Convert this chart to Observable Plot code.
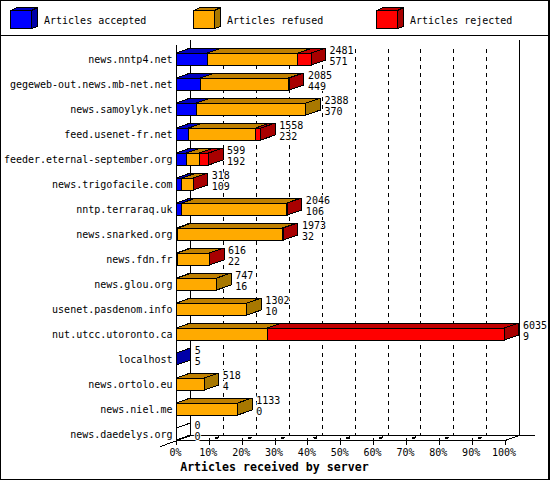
<!DOCTYPE html>
<html>
<head>
<meta charset="utf-8">
<script src="https://cdn.jsdelivr.net/npm/d3@7"></script>
<script src="https://cdn.jsdelivr.net/npm/@observablehq/plot@0.6"></script>
<style>
html,body{margin:0;padding:0;background:#fff;}
#page{position:relative;width:550px;height:480px;overflow:hidden;font-family:"DejaVu Sans Mono",monospace;color:#000;}
#frame{position:absolute;left:0;top:0;width:550px;height:480px;box-sizing:border-box;border:1px solid #000;border-right-width:2px;pointer-events:none;z-index:5;}
#legend{position:relative;height:35px;border-bottom:1px solid #000;}
#legend .sw{position:absolute;top:7px;}
#legend .tx{position:absolute;top:14px;font-size:10px;line-height:14px;white-space:pre;}
#chart svg{display:block;}
</style>
</head>
<body>
<div id="page"><div id="frame"></div><div id="legend"></div><div id="chart"></div></div>
<script>
const servers = ["news.nntp4.net","gegeweb-out.news.mb-net.net","news.samoylyk.net","feed.usenet-fr.net","feeder.eternal-september.org","news.trigofacile.com","nntp.terraraq.uk","news.snarked.org","news.fdn.fr","news.glou.org","usenet.pasdenom.info","nut.utcc.utoronto.ca","localhost","news.ortolo.eu","news.niel.me","news.daedelys.org"];
const totals   = [2481,2085,2388,1558,599,318,2046,1973,616,747,1302,6035,5,518,1133,0];
const accepted = [571,449,370,232,192,109,106,32,22,16,10,9,5,4,0,0];
const refused  = [1668,1616,2018,1231,237,204,1930,1926,590,731,1292,1665,0,514,1133,0];
const rejected = [242,20,0,95,170,5,10,15,4,0,0,4361,0,0,0,0];
const seriesNames = ["Articles accepted","Articles refused","Articles rejected"];
const frontColors = ["#0000ff","#ffaa00","#ff0000"];
const topColors   = ["#0000c0","#c08000","#c00000"];
const sideColors  = ["#0000a8","#a87800","#a80000"];
const percentTicks = [0,10,20,30,40,50,60,70,80,90,100];
const axisTitle = "Articles received by server";

// depth of the 3D projection in scale units, half height of a bar in rows
const depthX = 4.41, depthY = 0.2, half = 0.24, fullScale = 6035;
const pct = v => v / fullScale * 100;
const floorFront = 15 + half, floorBack = floorFront - depthY;

const series = [accepted, refused, rejected];
const fronts = [], quads = [];
servers.forEach((name, row) => {
  let start = 0, last = -1;
  series.forEach((vals, s) => {
    const v = vals[row];
    if (v <= 0) return;
    const a = pct(start), b = pct(start + v);
    fronts.push({row, x1: a, x2: b, fill: frontColors[s]});
    quads.push({id: `t${row}-${s}`, x1: a, x2: b, y1: row - half, y2: row - half, fill: topColors[s]});
    quads.push({id: `t${row}-${s}`, x1: a + depthX, x2: b + depthX, y1: row - half - depthY, y2: row - half - depthY, fill: topColors[s]});
    start += v; last = s;
  });
  const e = pct(start), fill = last >= 0 ? sideColors[last] : "#ffffff";
  quads.push({id: `s${row}`, x1: e, x2: e, y1: row - half, y2: row + half, fill});
  quads.push({id: `s${row}`, x1: e + depthX, x2: e + depthX, y1: row - half - depthY, y2: row + half - depthY, fill});
});

const valueLabels = servers.flatMap((_, row) => [
  {row: row - 0.36, x: pct(totals[row]) + depthX, t: String(totals[row])},
  {row: row + 0.08, x: pct(accepted[row] + refused[row] + rejected[row]) + depthX, t: String(accepted[row])}
]);

const inner = percentTicks.slice(1, -1);

const chart = Plot.plot({
  width: 550, height: 444,
  marginLeft: 177, marginRight: 45, marginTop: 0, marginBottom: 40,
  style: {fontFamily: '"DejaVu Sans Mono", monospace', fontSize: "10px", color: "#000", background: "#fff", overflow: "visible", shapeRendering: "crispEdges"},
  x: {domain: [0, 100], range: [176, 504.5]},
  y: {domain: [0, 15], range: [23, 398]},
  color: {type: "identity"},
  marks: [
    // back wall grid
    Plot.ruleX(inner, {x: d => d + depthX, y1: -0.4, y2: floorBack, stroke: "#000", strokeDasharray: "4 4"}),
    Plot.ruleX([0 + depthX, 100 + depthX], {y1: -0.76, y2: floorBack, stroke: "#000"}),
    Plot.ruleX([0], {y1: -0.56, y2: floorFront, stroke: "#000"}),
    // floor
    Plot.link([{a: 0, b: 100, y: floorFront}, {a: depthX, b: 109.1, y: floorBack}], {x1: "a", x2: "b", y1: "y", y2: "y", stroke: "#000"}),
    Plot.link([{a: -4.88, r: 15.48, b: depthX}, {a: 100, r: floorFront, b: 100 + depthX}], {x1: "a", y1: "r", x2: "b", y2: floorBack, stroke: "#000"}),
    Plot.link(inner, {x1: d => d, y1: floorFront, x2: d => d + depthX, y2: floorBack, stroke: "#000", strokeWidth: 2, strokeDasharray: "0 6 4 100"}),
    Plot.ruleX(inner, {x: d => d, y1: floorFront - 0.08, y2: floorFront, stroke: "#000"}),
    // bars
    Plot.area(quads, {x1: "x1", x2: "x2", y1: "y1", y2: "y2", z: "id", fill: "fill", stroke: "#000", strokeWidth: 1}),
    Plot.rect(fronts, {x1: "x1", x2: "x2", y1: d => d.row - half, y2: d => d.row + half, fill: "fill", stroke: "#000", strokeWidth: 1, inset: 0}),
    // labels
    Plot.text(valueLabels, {x: "x", y: "row", text: "t", dx: 3.5, textAnchor: "start", fill: "#000", stroke: "#fff", strokeWidth: 2, fontSize: 10}),
    Plot.axisX({ticks: percentTicks, tickFormat: () => "", tickSize: 5, label: null}),
    Plot.axisX({ticks: percentTicks, tickFormat: d => d + "%", tickSize: 0, tickPadding: 8, label: null, fontSize: 10, dx: -1}),
    Plot.axisY({ticks: d3.range(servers.length), tickFormat: d => servers[d], tickSize: 0, tickPadding: 5, label: null, fontSize: 10}),
    Plot.text([axisTitle], {x: 29.8, y: 16.3, text: d => d, fontWeight: "bold", fontSize: 11.6, fill: "#000"})
  ]
});
document.getElementById("chart").appendChild(chart);

// legend
const legend = document.getElementById("legend");
seriesNames.forEach((name, i) => {
  const left = 10 + i * 183;
  legend.insertAdjacentHTML("beforeend",
    `<svg class="sw" style="left:${left}px" width="29" height="23" viewBox="0 0 29 23" shape-rendering="crispEdges">
      <polygon points="0.5,3.5 7.5,0.5 27.5,0.5 21.5,3.5" fill="${topColors[i]}" stroke="#000"/>
      <polygon points="21.5,3.5 27.5,0.5 27.5,19.5 21.5,21.5" fill="${sideColors[i]}" stroke="#000"/>
      <rect x="0.5" y="3.5" width="21" height="18" fill="${frontColors[i]}" stroke="#000"/>
    </svg><span class="tx" style="left:${44 + i * 183}px">${name}</span>`);
});
</script>
</body>
</html>
